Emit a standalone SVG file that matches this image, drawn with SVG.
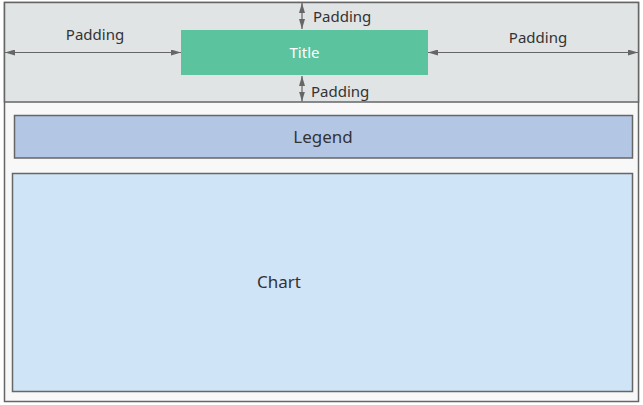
<svg xmlns="http://www.w3.org/2000/svg" width="643" height="405" viewBox="0 0 643 405">
<style>
text{font-family:"Noto Sans","Open Sans","DejaVu Sans",sans-serif;fill:#333}
.pad{font-size:15px}
.big{font-size:17px;text-anchor:middle}
.box{stroke:#666;stroke-width:1.5}
.arr{stroke:#666;stroke-width:1.2;fill:none;marker-start:url(#ah);marker-end:url(#ah)}
</style>
<defs>
<marker id="ah" viewBox="0 0 10 6" refX="10" refY="3" markerWidth="10" markerHeight="6" markerUnits="userSpaceOnUse" orient="auto-start-reverse">
<path d="M0,0 L10,3 L0,6 Z" fill="#666"/>
</marker>
</defs>
<g id="container">
<rect x="4.5" y="2.5" width="634" height="399" fill="#f8f8f8" class="box"/>
<rect x="4.5" y="2.5" width="634" height="99.5" fill="#e1e4e5" class="box"/>
</g>
<g id="title">
<rect x="181" y="30" width="247" height="45" fill="#5bc49f"/>
<text x="304.5" y="57.5" style="font-size:15px;text-anchor:middle;fill:#fff">Title</text>
</g>
<g id="legend">
<rect x="14.5" y="115.5" width="618" height="42.5" fill="#b3c7e5" class="box"/>
<text x="323" y="143" class="big">Legend</text>
</g>
<g id="chart">
<rect x="12.5" y="173.5" width="620" height="218" fill="#d0e4f8" class="box"/>
<text x="279" y="288" class="big">Chart</text>
</g>
<g id="connectors">
<line x1="5" y1="52.5" x2="181" y2="52.5" class="arr"/>
<line x1="428" y1="52.5" x2="638" y2="52.5" class="arr"/>
<line x1="302" y1="3" x2="302" y2="29" class="arr"/>
<line x1="302" y1="76" x2="302" y2="101.5" class="arr"/>
</g>
<g id="labels">
<text x="95" y="40" class="pad" text-anchor="middle">Padding</text>
<text x="538" y="43" class="pad" text-anchor="middle">Padding</text>
<text x="313" y="22" class="pad">Padding</text>
<text x="311" y="97" class="pad">Padding</text>
</g>
</svg>
